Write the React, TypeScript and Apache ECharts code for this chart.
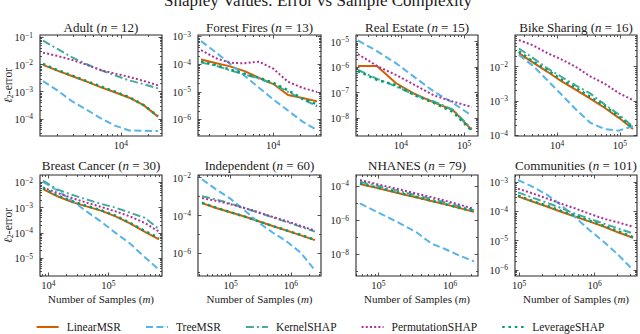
import React, { useEffect, useRef } from 'react';
import * as echarts from 'echarts';

const FONT = "'Liberation Serif', 'DejaVu Serif', 'Times New Roman', serif";
const TXT = '#1a1a1a';
const FRAME = '#2a2a2a';

const METHODS = ['LinearMSR', 'TreeMSR', 'KernelSHAP', 'PermutationSHAP', 'LeverageSHAP'];
const COLORS = ['#D55E00', '#56B4E9', '#44AA99', '#AA3399', '#009E73'];
const DASHES: any[] = ['solid', [7, 3.5], [8, 3, 2, 3], [2, 2.2], [2.5, 3.8]];
const WIDTHS = [2, 2, 2, 2, 2.5];

// ---- Adult (n = 12)
const adultSamples = [1390, 2000, 2880, 4140, 5960, 8570, 12330, 17740, 25530];
const adultLinear = [9.8e-3, 6.0e-3, 3.8e-3, 2.4e-3, 1.48e-3, 9.5e-4, 6.0e-4, 3.2e-4, 1.2e-4];
const adultTree = [2.45e-3, 1.12e-3, 4.5e-4, 2.24e-4, 1.05e-4, 5.6e-5, 3.7e-5, 3.6e-5, 3.55e-5];
const adultKernel = [7.6e-2, 3.8e-2, 1.9e-2, 1.05e-2, 6.3e-3, 4.0e-3, 2.6e-3, 1.9e-3, 1.32e-3];
const adultPerm = [2.75e-2, 2.1e-2, 1.5e-2, 1.0e-2, 6.3e-3, 4.7e-3, 3.5e-3, 2.5e-3, 1.7e-3];
const adultLeverage = [1.07e-2, 6.3e-3, 4.0e-3, 2.5e-3, 1.58e-3, 1.0e-3, 6.3e-4, 3.2e-4, 1.26e-4];
const adultXTicks = [4];
const adultYTicks = [-1, -2, -3, -4];

// ---- Forest Fires (n = 13)
const forestSamples = [1620, 2330, 3370, 4860, 7010, 10100, 14600, 21100, 30500];
const forestLinear = [1.48e-4, 1.1e-4, 8.3e-5, 5.6e-5, 3.2e-5, 1.9e-5, 7.6e-6, 6.0e-6, 4.5e-6];
const forestTree = [6.8e-4, 2.75e-4, 1.02e-4, 3.8e-5, 1.41e-5, 5.2e-6, 2.1e-6, 8.3e-7, 4.1e-7];
const forestKernel = [1.15e-4, 8.9e-5, 6.0e-5, 4.2e-5, 3.0e-5, 1.9e-5, 1.0e-5, 5.4e-6, 3.0e-6];
const forestPerm = [3.2e-4, 1.66e-4, 1.12e-4, 1.07e-4, 1.23e-4, 6.8e-5, 2.3e-5, 1.38e-5, 9.8e-6];
const forestLeverage = [1.26e-4, 9.3e-5, 6.3e-5, 4.5e-5, 3.2e-5, 2.1e-5, 1.12e-5, 5.6e-6, 3.5e-6];
const forestXTicks = [4];
const forestYTicks = [-3, -4, -5, -6];

// ---- Real Estate (n = 15)
const realSamples = [2070, 4140, 8280, 16560, 33120, 66240, 132480];
const realLinear = [1.12e-6, 1.12e-6, 2.4e-7, 8.9e-8, 4.2e-8, 2.1e-8, 3.5e-9];
const realTree = [1.12e-5, 4.3e-6, 1.45e-6, 4.0e-7, 1.12e-7, 4.0e-8, 1.26e-8];
const realKernel = [7.9e-7, 3.5e-7, 1.78e-7, 8.3e-8, 4.5e-8, 2.2e-8, 3.8e-9];
const realPerm = [3.3e-6, 1.12e-6, 5.0e-7, 2.0e-7, 7.9e-8, 4.5e-8, 2.75e-8];
const realLeverage = [7.1e-7, 3.2e-7, 2.0e-7, 7.9e-8, 4.0e-8, 1.78e-8, 3.2e-9];
const realXTicks = [4, 5];
const realYTicks = [-5, -6, -7, -8];

// ---- Bike Sharing (n = 16)
const bikeSamples = [2480, 4190, 7050, 11900, 20000, 33700, 56900, 95800, 161000];
const bikeLinear = [2.5e-2, 1.32e-2, 7.1e-3, 3.7e-3, 2.1e-3, 1.17e-3, 6.3e-4, 3.2e-4, 1.5e-4];
const bikeTree = [2.2e-2, 1.05e-2, 4.0e-3, 1.5e-3, 5.6e-4, 2.3e-4, 1.5e-4, 1.35e-4, 1.82e-4];
const bikeKernel = [3.4e-2, 1.78e-2, 8.9e-3, 5.0e-3, 2.8e-3, 1.66e-3, 7.9e-4, 4.0e-4, 1.74e-4];
const bikePerm = [6.0e-2, 4.2e-2, 2.5e-2, 1.62e-2, 9.8e-3, 5.2e-3, 3.2e-3, 1.7e-3, 1.05e-3];
const bikeLeverage = [2.8e-2, 1.41e-2, 7.9e-3, 4.2e-3, 2.4e-3, 1.32e-3, 7.1e-4, 3.5e-4, 1.62e-4];
const bikeXTicks = [4, 5];
const bikeYTicks = [-2, -3, -4];

// ---- Breast Cancer (n = 30)
const breastSamples = [8170, 14200, 24800, 43300, 75500, 132000, 230000, 401000, 700000];
const breastLinear = [5.4e-3, 2.8e-3, 1.66e-3, 1.12e-3, 7.6e-4, 4.5e-4, 2.4e-4, 1.12e-4, 5.6e-5];
const breastTree = [1.05e-2, 4.7e-3, 1.9e-3, 7.1e-4, 2.8e-4, 1.0e-4, 3.8e-5, 1.12e-5, 3.5e-6];
const breastKernel = [1.17e-2, 5.2e-3, 3.2e-3, 2.1e-3, 1.41e-3, 1.0e-3, 6.3e-4, 4.0e-4, 1.41e-4];
const breastPerm = [6.3e-3, 3.8e-3, 2.4e-3, 1.58e-3, 1.07e-3, 7.1e-4, 4.5e-4, 2.5e-4, 1.12e-4];
const breastLeverage = [6.0e-3, 3.0e-3, 1.78e-3, 1.17e-3, 7.9e-4, 4.8e-4, 2.5e-4, 1.2e-4, 6.3e-5];
const breastXTicks = [4, 5];
const breastYTicks = [-2, -3, -4, -5];

// ---- Independent (n = 60)
const indepSamples = [33300, 57100, 98200, 169000, 289000, 497000, 853000, 1470000, 2510000];
const indepLinear = [4.5e-4, 2.5e-4, 1.48e-4, 8.9e-5, 5.0e-5, 2.8e-5, 1.58e-5, 8.9e-6, 5.0e-6];
const indepTree = [8.3e-3, 2.4e-3, 7.8e-4, 1.9e-4, 4.3e-5, 1.26e-5, 4.2e-6, 1.05e-6, 1.26e-7];
const indepKernel = [1.05e-3, 7.1e-4, 4.3e-4, 2.5e-4, 1.41e-4, 7.9e-5, 4.5e-5, 2.5e-5, 1.41e-5];
const indepPerm = [8.3e-4, 6.0e-4, 4.0e-4, 2.5e-4, 1.48e-4, 8.5e-5, 5.0e-5, 2.8e-5, 1.58e-5];
const indepLeverage = [4.7e-4, 2.6e-4, 1.51e-4, 8.9e-5, 5.0e-5, 2.8e-5, 1.62e-5, 9.3e-6, 5.2e-6];
const indepXTicks = [5, 6];
const indepYTicks = [-2, -4, -6];

// ---- NHANES (n = 79)
const nhanesSamples = [55600, 87800, 139000, 219000, 347000, 547000, 865000, 1370000, 2160000];
const nhanesLinear = [1.32e-4, 8.3e-5, 5.2e-5, 3.3e-5, 2.1e-5, 1.32e-5, 8.3e-6, 5.0e-6, 3.0e-6];
const nhanesTree = [9.5e-6, 3.6e-6, 1.38e-6, 5.2e-7, 1.78e-7, 4.2e-8, 1.9e-8, 7.9e-9, 3.7e-9];
const nhanesKernel = [1.78e-4, 1.12e-4, 7.1e-5, 4.5e-5, 2.8e-5, 1.78e-5, 1.07e-5, 6.3e-6, 3.8e-6];
const nhanesPerm = [2.24e-4, 1.41e-4, 8.9e-5, 5.6e-5, 3.5e-5, 2.24e-5, 1.35e-5, 7.9e-6, 4.5e-6];
const nhanesLeverage = [1.41e-4, 8.9e-5, 5.6e-5, 3.5e-5, 2.2e-5, 1.38e-5, 8.5e-6, 5.1e-6, 3.2e-6];
const nhanesXTicks = [5, 6];
const nhanesYTicks = [-4, -6, -8];

// ---- Communities (n = 101)
const commSamples = [97000, 150000, 233000, 360000, 558000, 865000, 1340000, 2070000, 3210000];
const commLinear = [3.3e-4, 2.2e-4, 1.48e-4, 9.8e-5, 6.6e-5, 4.5e-5, 3.0e-5, 1.9e-5, 1.26e-5];
const commTree = [1.2e-3, 7.1e-4, 3.8e-4, 1.66e-4, 6.3e-5, 2.24e-5, 8.9e-6, 3.2e-6, 1.0e-6];
const commKernel = [4.5e-4, 3.0e-4, 2.0e-4, 1.32e-4, 8.3e-5, 5.6e-5, 3.8e-5, 2.6e-5, 1.78e-5];
const commPerm = [6.0e-4, 4.2e-4, 2.8e-4, 1.86e-4, 1.26e-4, 8.3e-5, 5.6e-5, 4.2e-5, 3.0e-5];
const commLeverage = [3.5e-4, 2.3e-4, 1.58e-4, 1.05e-4, 7.1e-5, 4.8e-5, 3.2e-5, 2.1e-5, 1.32e-5];
const commXTicks = [5, 6];
const commYTicks = [-3, -4, -5, -6];

const PANELS = [
  { title: 'Adult', n: 12, samples: adultSamples, series: [adultLinear, adultTree, adultKernel, adultPerm, adultLeverage], xTicks: adultXTicks, yTicks: adultYTicks, xRange: [3.11, 4.451], yRange: [-4.635, -0.908] },
  { title: 'Forest Fires', n: 13, samples: forestSamples, series: [forestLinear, forestTree, forestKernel, forestPerm, forestLeverage], xTicks: forestXTicks, yTicks: forestYTicks, xRange: [3.176, 4.527], yRange: [-6.6, -2.946] },
  { title: 'Real Estate', n: 15, samples: realSamples, series: [realLinear, realTree, realKernel, realPerm, realLeverage], xTicks: realXTicks, yTicks: realYTicks, xRange: [3.286, 5.222], yRange: [-8.698, -4.737] },
  { title: 'Bike Sharing', n: 16, samples: bikeSamples, series: [bikeLinear, bikeTree, bikeKernel, bikePerm, bikeLeverage], xTicks: bikeXTicks, yTicks: bikeYTicks, xRange: [3.333, 5.27], yRange: [-4.026, -1.073] },
  { title: 'Breast Cancer', n: 30, samples: breastSamples, series: [breastLinear, breastTree, breastKernel, breastPerm, breastLeverage], xTicks: breastXTicks, yTicks: breastYTicks, xRange: [3.862, 5.895], yRange: [-5.704, -1.711] },
  { title: 'Independent', n: 60, samples: indepSamples, series: [indepLinear, indepTree, indepKernel, indepPerm, indepLeverage], xTicks: indepXTicks, yTicks: indepYTicks, xRange: [4.456, 6.5], yRange: [-7.2, -1.857] },
  { title: 'NHANES', n: 79, samples: nhanesSamples, series: [nhanesLinear, nhanesTree, nhanesKernel, nhanesPerm, nhanesLeverage], xTicks: nhanesXTicks, yTicks: nhanesYTicks, xRange: [4.689, 6.39], yRange: [-9.294, -3.353] },
  { title: 'Communities', n: 101, samples: commSamples, series: [commLinear, commTree, commKernel, commPerm, commLeverage], xTicks: commXTicks, yTicks: commYTicks, xRange: [4.947, 6.56], yRange: [-6.209, -2.75] },
];

const COL_LEFT = [40, 198, 356, 515];
const COL_WIDTH = [122, 123, 122, 122];
const ROW_TOP = [35, 175];
const ROW_HEIGHT = 101;

function minorValues(lo: number, hi: number, majors: number[]) {
  const step = majors.length > 1 ? Math.abs(majors[1] - majors[0]) : 1;
  const out: number[] = [];
  for (let k = Math.floor(lo) - 1; k <= Math.ceil(hi); k++) {
    if (step === 1) {
      for (let m = 2; m <= 9; m++) {
        const v = k + Math.log10(m);
        if (v > lo && v < hi) out.push(v);
      }
    } else if (!majors.includes(k) && k > lo && k < hi) {
      out.push(k);
    }
  }
  return out;
}

const LABEL_RICH = {
  b: { fontFamily: FONT, fontSize: 10.5, color: TXT, lineHeight: 12, verticalAlign: 'bottom' },
  s: { fontFamily: FONT, fontSize: 7.5, color: TXT, lineHeight: 6, verticalAlign: 'top' },
};

function powerLabel(v: number) {
  const k = Math.round(v);
  return `{b|10}{s|${k < 0 ? '\u2212' : ''}${Math.abs(k)}}`;
}

function makeAxis(gridIndex: number, position: string, range: number[], ticks: number[], len: number, labels: boolean, margin: number) {
  return {
    type: 'value',
    gridIndex,
    position,
    min: range[0],
    max: range[1],
    axisLine: { show: false, onZero: false },
    splitLine: { show: false },
    axisTick: { show: true, inside: true, length: len, customValues: ticks, lineStyle: { color: FRAME, width: 0.8 } },
    axisLabel: labels
      ? { show: true, customValues: ticks, formatter: powerLabel, margin, rich: LABEL_RICH, color: TXT, fontFamily: FONT }
      : { show: false },
  };
}

function textEl(text: string, x: number, y: number, size: number, rich: any, rotation = 0) {
  return {
    type: 'text',
    x,
    y,
    rotation,
    silent: true,
    style: {
      text,
      rich,
      fill: TXT,
      fontFamily: FONT,
      fontSize: size,
      textAlign: 'center',
      align: 'center',
      textVerticalAlign: 'middle',
      verticalAlign: 'middle',
    },
  };
}

function buildOption() {
  const grids: any[] = [];
  const xAxes: any[] = [];
  const yAxes: any[] = [];
  const series: any[] = [];
  const graphics: any[] = [];

  const titleRich = {
    r: { fontFamily: FONT, fontSize: 13, fill: TXT, color: TXT },
    i: { fontFamily: FONT, fontSize: 13, fontStyle: 'italic', fill: TXT, color: TXT },
  };
  const labelRich = {
    r: { fontFamily: FONT, fontSize: 11, fill: TXT, color: TXT },
    i: { fontFamily: FONT, fontSize: 11, fontStyle: 'italic', fill: TXT, color: TXT },
  };
  const yRich = {
    r: { fontFamily: FONT, fontSize: 11.5, fill: TXT, color: TXT, lineHeight: 13, verticalAlign: 'top' },
    i: { fontFamily: FONT, fontSize: 11.5, fontStyle: 'italic', fill: TXT, color: TXT, lineHeight: 13, verticalAlign: 'top' },
    sub: { fontFamily: FONT, fontSize: 8, fill: TXT, color: TXT, lineHeight: 8, verticalAlign: 'bottom' },
  };

  PANELS.forEach((p, i) => {
    const row = Math.floor(i / 4);
    const col = i % 4;
    const left = COL_LEFT[col];
    const width = COL_WIDTH[col];
    const top = ROW_TOP[row];
    grids.push({
      left, top, width, height: ROW_HEIGHT,
      show: true, borderColor: FRAME, borderWidth: 1.1, backgroundColor: 'transparent',
      containLabel: false,
    });
    const xMinor = minorValues(p.xRange[0], p.xRange[1], p.xTicks);
    const yMinor = minorValues(p.yRange[0], p.yRange[1], p.yTicks);
    xAxes.push(makeAxis(i, 'bottom', p.xRange, p.xTicks, 3.5, true, 3));
    xAxes.push(makeAxis(i, 'bottom', p.xRange, xMinor, 2, false, 3));
    xAxes.push(makeAxis(i, 'top', p.xRange, p.xTicks, 3.5, false, 3));
    xAxes.push(makeAxis(i, 'top', p.xRange, xMinor, 2, false, 3));
    yAxes.push(makeAxis(i, 'left', p.yRange, p.yTicks, 3.5, true, 7));
    yAxes.push(makeAxis(i, 'left', p.yRange, yMinor, 2, false, 7));
    yAxes.push(makeAxis(i, 'right', p.yRange, p.yTicks, 3.5, false, 7));
    yAxes.push(makeAxis(i, 'right', p.yRange, yMinor, 2, false, 7));

    p.series.forEach((vals, k) => {
      series.push({
        type: 'line',
        name: METHODS[k],
        xAxisIndex: 4 * i,
        yAxisIndex: 4 * i,
        data: p.samples.map((s, j) => [Math.log10(s), Math.log10(vals[j])]),
        symbol: 'none',
        showSymbol: false,
        silent: true,
        clip: true,
        z: 2 + k,
        lineStyle: { color: COLORS[k], width: WIDTHS[k], type: DASHES[k], cap: 'butt' },
        itemStyle: { color: COLORS[k] },
      });
    });

    const cx = left + width / 2;
    graphics.push(textEl(`{r|${p.title} (}{i|n}{r| = ${p.n})}`, cx, row === 0 ? 27 : 165.5, 13, titleRich));
    if (row === 1) {
      graphics.push(textEl('{r|Number of Samples (}{i|m}{r|)}', cx, 298.5, 11, labelRich));
    }
    if (col === 0) {
      graphics.push(textEl('{i|\u2113}{sub|2}{r|-error}', 8, top + ROW_HEIGHT / 2, 11.5, yRich, Math.PI / 2));
    }
  });

  graphics.push(textEl('Shapley Values: Error vs Sample Complexity', 318, 0.5, 17, undefined));

  return {
    animation: false,
    backgroundColor: '#ffffff',
    grid: grids,
    xAxis: xAxes,
    yAxis: yAxes,
    series,
    graphic: { elements: graphics },
    legend: {
      data: METHODS,
      top: 321,
      left: 'center',
      padding: 0,
      itemWidth: 22,
      itemHeight: 12,
      itemGap: 24,
      selectedMode: false,
      itemStyle: { opacity: 0 },
      textStyle: { fontFamily: FONT, fontSize: 11.5, color: TXT, padding: [0, 0, 0, 3] },
    },
  };
}

export default function App() {
  const ref = useRef<HTMLDivElement>(null);
  useEffect(() => {
    if (!ref.current) return;
    const chart = echarts.init(ref.current, undefined, { renderer: 'svg' });
    chart.setOption(buildOption() as any);
    return () => chart.dispose();
  }, []);
  return <div ref={ref} style={{ position: 'absolute', left: 0, top: 0, width: 640, height: 334 }} />;
}
